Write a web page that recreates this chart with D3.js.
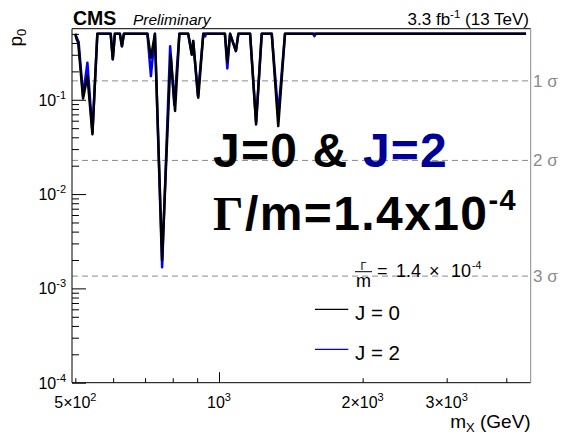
<!DOCTYPE html>
<html>
<head>
<meta charset="utf-8">
<script src="https://cdn.jsdelivr.net/npm/d3@7"></script>
<style>
  body { margin: 0; background: #fff; }
  svg { display: block; }
  text { font-family: "Liberation Sans", Arial, Helvetica, sans-serif; }
</style>
</head>
<body>
<svg id="chart" width="562" height="436"></svg>
<script>
// Local p-value scan, spin-0 and spin-2 hypotheses, narrow width
const massJ0 = [500, 503, 507, 519, 530, 543, 556, 593, 599, 605, 620, 626, 632, 708, 720, 734,
  760, 792, 809, 826, 862, 877, 883, 905, 927, 1029, 1041, 1055, 1085, 1098, 1162, 1196, 1229,
  1290, 1331, 1375, 4400];
const p0J0 = [0.5, 0.44, 0.40, 0.103, 0.178, 0.043, 0.5, 0.5, 0.268, 0.5, 0.5, 0.37, 0.5, 0.5, 0.279, 0.5,
  0.0020, 0.298, 0.076, 0.5, 0.5, 0.303, 0.419, 0.105, 0.5, 0.5, 0.25, 0.5, 0.328, 0.5, 0.5, 0.0548, 0.5,
  0.5, 0.0526, 0.5, 0.5];

const massJ2 = [500, 502, 508, 519, 530, 543, 556, 593, 599, 605, 620, 626, 632, 708, 720, 734,
  760, 790, 806, 826, 862, 877, 883, 903, 927, 930, 935, 940, 1029, 1041, 1055, 1085, 1098,
  1162, 1196, 1229, 1290, 1331, 1375, 1575, 1585, 1595, 4400];
const p0J2 = [0.5, 0.47, 0.41, 0.11, 0.247, 0.045, 0.5, 0.5, 0.27, 0.5, 0.5, 0.37, 0.5, 0.5, 0.178, 0.5,
  0.00168, 0.37, 0.088, 0.5, 0.5, 0.30, 0.42, 0.11, 0.5, 0.5, 0.47, 0.5, 0.5, 0.215, 0.5, 0.33, 0.5,
  0.5, 0.058, 0.5, 0.5, 0.070, 0.5, 0.5, 0.472, 0.5, 0.5];

// significance reference levels
const sigmaP = [0.158655, 0.02275, 0.0013499];
const sigmaLabels = ["1 \u03c3", "2 \u03c3", "3 \u03c3"];

// axis tick labels: [mantissa text, exponent]
const xTickVals = [500, 1000, 2000, 3000];
const xTickText = [["5\u00d710", "2"], ["10", "3"], ["2\u00d710", "3"], ["3\u00d710", "3"]];
const xMinorVals = [500, 600, 700, 800, 900, 2000, 3000, 4000];
const yTickVals = [1e-4, 1e-3, 1e-2, 1e-1];
const yTickText = [["10", "-4"], ["10", "-3"], ["10", "-2"], ["10", "-1"]];

const svg = d3.select("#chart");
const fLeft = 72, fRight = 530.7, fTop = 28.7, fBottom = 382.7;

const x = d3.scaleLog().domain([492, 4500]).range([fLeft, fRight]);
const y = d3.scaleLog().domain([1e-4, 0.567]).range([fBottom, fTop]);

svg.append("defs").append("clipPath").attr("id", "plotClip")
  .append("rect").attr("x", fLeft).attr("y", fTop).attr("width", fRight - fLeft).attr("height", fBottom - fTop);

// minor y ticks
const yMinor = [];
for (let e = -4; e <= 0; e++) {
  for (let k = 2; k <= 9; k++) {
    const v = k * Math.pow(10, e);
    if (v < 0.567) yMinor.push(v);
  }
}

const axisStyle = g => {
  g.select(".domain").remove();
  g.selectAll("line").attr("stroke", "#000").attr("stroke-width", 1);
};

svg.append("g").attr("transform", `translate(${fLeft},0)`)
  .call(d3.axisLeft(y).tickValues(yMinor).tickSize(-7).tickFormat(""))
  .call(axisStyle);
svg.append("g").attr("transform", `translate(${fLeft},0)`)
  .call(d3.axisLeft(y).tickValues(yTickVals).tickSize(-14).tickFormat(""))
  .call(axisStyle);

svg.append("g").attr("transform", `translate(0,${fBottom})`)
  .call(d3.axisBottom(x).tickValues(xMinorVals).tickSize(-4.5).tickFormat(""))
  .call(axisStyle);
svg.append("g").attr("transform", `translate(0,${fBottom})`)
  .call(d3.axisBottom(x).tickValues([1000]).tickSize(-10.5).tickFormat(""))
  .call(axisStyle);

// tick labels with exponents
yTickVals.forEach((v, i) => {
  const t = svg.append("text").attr("x", 66).attr("y", y(v) + 6)
    .attr("text-anchor", "end").attr("font-size", 16);
  t.append("tspan").text(yTickText[i][0]);
  t.append("tspan").attr("font-size", 11).attr("dy", -7).text(yTickText[i][1]);
});
xTickVals.forEach((v, i) => {
  const t = svg.append("text").attr("x", x(v)).attr("y", 408.3)
    .attr("text-anchor", "middle").attr("font-size", 16);
  t.append("tspan").text(xTickText[i][0]);
  t.append("tspan").attr("font-size", 11).attr("dy", -7).text(xTickText[i][1]);
});

// significance lines
svg.append("g").selectAll("line").data(sigmaP).join("line")
  .attr("x1", fLeft).attr("x2", fRight)
  .attr("y1", d => y(d)).attr("y2", d => y(d))
  .attr("stroke", "#8a8a8a").attr("stroke-width", 1).attr("stroke-dasharray", "6,4");
svg.append("g").selectAll("text").data(sigmaP).join("text")
  .attr("x", 533).attr("y", d => y(d) + 6)
  .attr("font-size", 17).attr("fill", "#8a8a8a")
  .text((d, i) => sigmaLabels[i]);

// curves
const line = d3.line().x(d => x(d[0])).y(d => y(d[1]));
const plot = svg.append("g").attr("clip-path", "url(#plotClip)");
plot.append("path").datum(d3.zip(massJ2, p0J2))
  .attr("d", line).attr("fill", "none").attr("stroke", "#0000ff")
  .attr("stroke-width", 2.5).attr("stroke-linejoin", "round");
plot.append("path").datum(d3.zip(massJ0, p0J0))
  .attr("d", line).attr("fill", "none").attr("stroke", "#000")
  .attr("stroke-width", 2.5).attr("stroke-linejoin", "round");

// frame
svg.append("path")
  .attr("d", `M${fRight},${fTop}H${fLeft}V${fBottom}H${fRight}`)
  .attr("fill", "none").attr("stroke", "#000").attr("stroke-width", 1);
svg.append("line").attr("x1", fRight).attr("x2", fRight).attr("y1", fTop).attr("y2", fBottom)
  .attr("stroke", "#8a8a8a").attr("stroke-width", 1);

// axis titles
const yt = svg.append("text").attr("transform", `translate(22,${fTop}) rotate(-90)`)
  .attr("text-anchor", "end").attr("font-size", 19);
yt.append("tspan").text("p");
yt.append("tspan").attr("font-size", 13).attr("dy", 4).text("0");

const xt = svg.append("text").attr("x", fRight).attr("y", 428)
  .attr("text-anchor", "end").attr("font-size", 19);
xt.append("tspan").text("m");
xt.append("tspan").attr("font-size", 13).attr("dy", 4).text("X");
xt.append("tspan").attr("dy", -4).text(" (GeV)");

// header
svg.append("text").attr("x", 73).attr("y", 25).attr("font-size", 19.5)
  .attr("font-weight", "bold").text("CMS");
svg.append("text").attr("x", 133).attr("y", 24.5).attr("font-size", 15.5)
  .attr("font-style", "italic").text("Preliminary");
const lumi = svg.append("text").attr("x", 529).attr("y", 24.5)
  .attr("text-anchor", "end").attr("font-size", 17);
lumi.append("tspan").text("3.3 fb");
lumi.append("tspan").attr("font-size", 11.5).attr("dy", -6.5).text("-1");
lumi.append("tspan").attr("dy", 6.5).text(" (13 TeV)");

// large annotation
const big1 = svg.append("text").attr("x", 213).attr("y", 166.7)
  .attr("font-size", 48).attr("font-weight", "bold").attr("letter-spacing", 1.2);
big1.append("tspan").attr("fill", "#000").text("J=0 & ");
big1.append("tspan").attr("fill", "#000099").text("J=2");

const big2 = svg.append("text").attr("x", 213).attr("y", 230)
  .attr("font-size", 48).attr("font-weight", "bold").attr("letter-spacing", 1.4);
big2.append("tspan").attr("font-family", "'Liberation Serif', 'Times New Roman', serif").text("\u0393");
big2.append("tspan").text("/m=1.4x10");
big2.append("tspan").attr("font-size", 29).attr("dy", -20).text("-4");

// legend
const lg = svg.append("g");
lg.append("text").attr("x", 363.5).attr("y", 270).attr("text-anchor", "middle")
  .attr("font-size", 11).attr("font-family", "'Liberation Serif', serif").text("\u0393");
lg.append("line").attr("x1", 355).attr("x2", 372).attr("y1", 271.7).attr("y2", 271.7)
  .attr("stroke", "#000").attr("stroke-width", 1);
lg.append("text").attr("x", 363.5).attr("y", 286.5).attr("text-anchor", "middle")
  .attr("font-size", 18).text("m");
lg.append("text").attr("x", 377).attr("y", 277.3).attr("font-size", 18).text("=");
lg.append("text").attr("x", 396).attr("y", 277.3).attr("font-size", 18).text("1.4");
lg.append("text").attr("x", 429).attr("y", 277.3).attr("font-size", 18).text("\u00d7");
lg.append("text").attr("x", 451).attr("y", 277.3).attr("font-size", 18).text("10");
lg.append("text").attr("x", 472).attr("y", 268.5).attr("font-size", 10.5).text("-4");

const legendItems = [
  { label: "J = 0", color: "#000", y: 309.3 },
  { label: "J = 2", color: "#0000ff", y: 349.3 }
];
legendItems.forEach(d => {
  lg.append("line").attr("x1", 315).attr("x2", 348.3).attr("y1", d.y).attr("y2", d.y)
    .attr("stroke", d.color).attr("stroke-width", 1.3);
  lg.append("text").attr("x", 355).attr("y", d.y + 11).attr("font-size", 20.5).text(d.label);
});
</script>
</body>
</html>
